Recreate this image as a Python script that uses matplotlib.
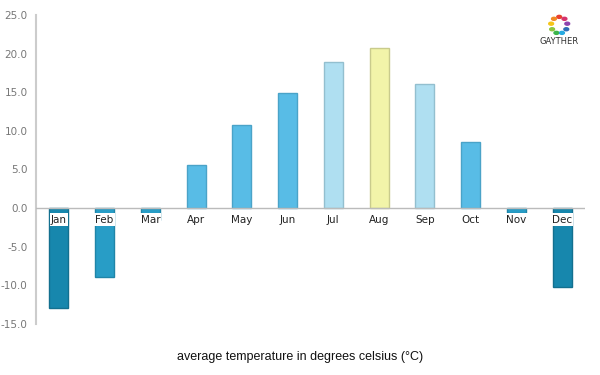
import matplotlib
matplotlib.use('Agg')
import matplotlib.pyplot as plt
import numpy as np

months = ['Jan', 'Feb', 'Mar', 'Apr', 'May', 'Jun', 'Jul', 'Aug', 'Sep', 'Oct', 'Nov', 'Dec']
temps = [-12.9, -9.0, -1.5, 5.6, 10.7, 14.9, 18.9, 20.7, 16.1, 8.5, -0.7, -10.2]
colors = ['#1787ad', '#289dc6', '#289dc6', '#58bce6', '#58bce6', '#58bce6',
          '#afdff1', '#f2f4a9', '#afdff1', '#58bce6', '#289dc6', '#1787ad']
edges = ['#13708f', '#2085a8', '#2085a8', '#4aa3c8', '#4aa3c8', '#4aa3c8',
         '#93bfcf', '#c9cb8c', '#93bfcf', '#4aa3c8', '#2085a8', '#13708f']
yticks = [-15, -10, -5, 0, 5, 10, 15, 20, 25]

fig = plt.figure(figsize=(6, 3.75), dpi=100)
ax = fig.add_axes([0.06, 0.1365, 0.915, 0.8235])

x = np.arange(len(months))
ax.bar(x, temps, width=0.42, color=colors, edgecolor=edges, linewidth=1, zorder=2)

ax.set_xlim(-0.5, 11.5)
ax.set_ylim(-15, 25)
ax.set_yticks(yticks)
ax.set_yticklabels(['%.1f' % v for v in yticks], color='#777777', fontsize=7.5, family='DejaVu Sans')
ax.tick_params(axis='y', length=0, pad=6)
ax.set_xticks([])

for s in ['top', 'right', 'bottom']:
    ax.spines[s].set_visible(False)
ax.spines['left'].set_color('#cccccc')
ax.spines['left'].set_linewidth(1.5)
ax.axhline(0, color='#bbbbbb', linewidth=1, zorder=3)

for xi, m in zip(x, months):
    ax.text(xi, -1.5, m, ha='center', va='center', fontsize=7.5, color='#222222',
            family='DejaVu Sans', zorder=4,
            bbox=dict(boxstyle='square,pad=0.12', fc='white', ec='none'))

fig.text(0.5, 0.047, 'average temperature in degrees celsius (°C)', ha='center', va='center',
         fontsize=9, color='#111111', family='Liberation Sans')

# small logo top right
lx, ly, r = 0.932, 0.933, 0.022
logo_cols = ['#e8402f', '#f08a24', '#f5c518', '#8cc63f', '#3bb54a', '#27aae1', '#2e6db4', '#8e44ad', '#d6336c']
for k, c in enumerate(logo_cols):
    a = 2 * np.pi * k / len(logo_cols) + np.pi / 2
    fig.patches.append(plt.Circle((lx + r * 0.62 * np.cos(a), ly + r * np.sin(a)), 0.004,
                                  transform=fig.transFigure, color=c))
fig.text(lx, 0.888, 'GAYTHER', ha='center', va='center', fontsize=6, color='#333333',
         family='DejaVu Sans')

fig.savefig('out.png', dpi=100)
